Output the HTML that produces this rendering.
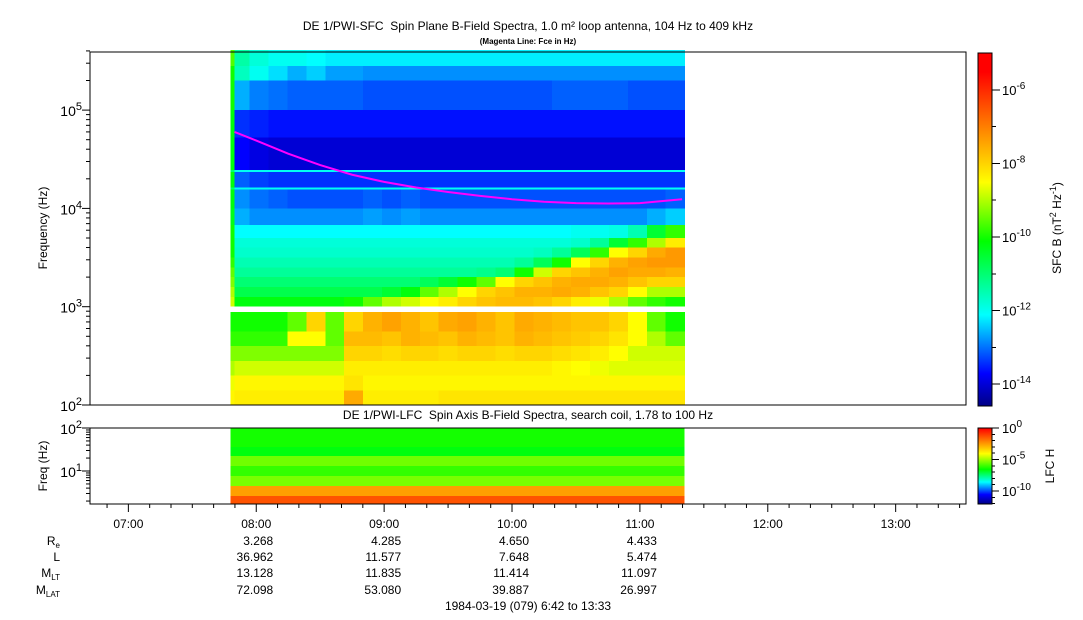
<!DOCTYPE html>
<html><head><meta charset="utf-8">
<style>
body{margin:0;background:#fff;}
svg{display:block;font-family:"Liberation Sans",sans-serif;}
</style></head>
<body>
<svg id="c" width="1083" height="620" viewBox="0 0 1083 620" xmlns="http://www.w3.org/2000/svg">
<rect width="1083" height="620" fill="#fff"/>
<text x="528" y="30" font-size="12" text-anchor="middle">DE 1/PWI-SFC&#160; Spin Plane B-Field Spectra, 1.0 m² loop antenna, 104 Hz to 409 kHz</text>
<text x="528" y="44" font-size="8" font-weight="bold" text-anchor="middle">(Magenta Line: Fce in Hz)</text>
<text x="528" y="419" font-size="12" text-anchor="middle">DE 1/PWI-LFC&#160; Spin Axis B-Field Spectra, search coil, 1.78 to 100 Hz</text>
<g id="topCells" shape-rendering="crispEdges"></g>
<g id="botCells" shape-rendering="crispEdges"></g>
<polyline id="fce" fill="none" stroke="#ff00ff" stroke-width="2"/>
<rect x="90" y="52" width="876" height="353" fill="none" stroke="#000"/>
<rect x="90" y="428" width="876" height="76" fill="none" stroke="#000"/>
<g id="axes" font-size="12"></g>
<text transform="translate(47,228) rotate(-90)" font-size="12" text-anchor="middle">Frequency (Hz)</text>
<text transform="translate(47,466) rotate(-90)" font-size="12" text-anchor="middle">Freq (Hz)</text>
<g id="cbar" shape-rendering="crispEdges"></g>
<text transform="translate(1061,228) rotate(-90)" font-size="12" text-anchor="middle">SFC B (nT<tspan dy="-5" font-size="9">2</tspan><tspan dy="5"> Hz</tspan><tspan dy="-5" font-size="9">-1</tspan><tspan dy="5">)</tspan></text>
<text transform="translate(1054,466) rotate(-90)" font-size="12" text-anchor="middle">LFC H</text>
<g id="eph" font-size="12"></g>
<text x="528" y="610" font-size="12" text-anchor="middle">1984-03-19 (079) 6:42 to 13:33</text>
</svg>
<script>
// ---- data ----
const tStart = 7.8, tEnd = 11.35;
const rowLo = [5.45,5.3,5.0,4.72,4.39,4.37,4.215,4.19,4.0,3.83,3.7,3.6,3.5,3.4,3.3,3.2,3.1,3.0, 2.75,2.6,2.45,2.3,2.15,2.0];
const rowHi = [5.61,5.45,5.3,5.0,4.72,4.39,4.37,4.215,4.19,4.0,3.83,3.7,3.6,3.5,3.4,3.3,3.2,3.1, 2.945,2.75,2.6,2.45,2.3,2.15];
const strip = [-9.6,-10,-10,-10.2,-10.2,-11,-10.2,-11,-10.2,-10.3,-10,-10,-10,-9.8,-9.5,-9.3,-9,-8.8, -10,-9.8,-9.3,-9,-8.6,-8.4];
const spec = [
[-11.4,-11.8,-12,-12,-12.1,-12.2,-12.2,-12.2,-12.2,-12.2,-12.2,-12.2,-12.2,-12.2,-12.2,-12.2,-12.2,-12.2,-12.2,-12.2,-12.2,-12.2,-12.2,-12.2],
[-11.6,-12,-12.3,-12.6,-12.4,-12.7,-12.7,-12.8,-12.8,-12.8,-12.8,-12.8,-12.8,-12.8,-12.8,-12.8,-12.8,-12.8,-12.8,-12.8,-12.8,-12.8,-12.8,-12.8],
[-12.6,-12.9,-13,-13.1,-13.1,-13.1,-13.1,-13.2,-13.2,-13.2,-13.2,-13.2,-13.2,-13.2,-13.2,-13.2,-13.2,-13.1,-13.1,-13.1,-13.1,-13.2,-13.2,-13.2],
[-13.4,-13.5,-13.6,-13.6,-13.6,-13.6,-13.6,-13.6,-13.6,-13.6,-13.6,-13.6,-13.6,-13.6,-13.6,-13.6,-13.6,-13.6,-13.6,-13.6,-13.6,-13.6,-13.6,-13.6],
[-13.7,-13.9,-14,-14,-14,-14,-14,-14,-14,-14,-14,-14,-14,-14,-14,-14,-14,-14,-14,-14,-14,-14,-14,-14],
[-12,-12,-12,-12,-12,-12,-12,-12,-12,-12,-12,-12,-12,-12,-12,-12,-12,-12,-12,-12,-12,-12,-12,-12],
[-13.1,-13.3,-13.4,-13.4,-13.4,-13.4,-13.4,-13.4,-13.4,-13.4,-13.4,-13.4,-13.4,-13.4,-13.4,-13.4,-13.4,-13.4,-13.4,-13.4,-13.4,-13.4,-13.4,-13.4],
[-12,-12,-12,-12,-12,-12,-12,-12,-12,-12,-12,-12,-12,-12,-12,-12,-12,-12,-12,-12,-12,-12,-12,-12],
[-12.8,-13,-13.1,-13.2,-13.2,-13.2,-13.2,-13.1,-13.2,-13.1,-13.2,-13.2,-13.2,-13.2,-13.2,-13.2,-13.2,-13.2,-13.2,-13.2,-13.2,-13.2,-13.2,-13.1],
[-12.6,-12.8,-12.8,-12.8,-12.8,-12.8,-12.8,-12.7,-12.8,-12.7,-12.8,-12.8,-12.8,-12.8,-12.8,-12.8,-12.8,-12.8,-12.8,-12.8,-12.8,-12.8,-12.6,-12.4],
[-12.1,-12.1,-12.1,-12.1,-12.1,-12.1,-12.1,-12.1,-12.1,-12.1,-12.1,-12.1,-12.1,-12.1,-12.1,-12.1,-12.1,-12.1,-12,-12,-11.9,-11.5,-10.5,-9.8],
[-11.8,-11.8,-11.8,-11.8,-11.8,-11.8,-11.8,-11.8,-11.8,-11.8,-11.8,-11.8,-11.8,-11.8,-11.8,-11.8,-11.8,-11.8,-11.7,-11.3,-10.5,-9.8,-9,-8.3],
[-11.7,-11.7,-11.7,-11.7,-11.7,-11.7,-11.7,-11.7,-11.7,-11.7,-11.7,-11.7,-11.7,-11.7,-11.7,-11.7,-11.6,-11.3,-10.8,-9.8,-8.5,-8,-7.5,-7.3],
[-11.5,-11.5,-11.5,-11.5,-11.5,-11.5,-11.5,-11.5,-11.5,-11.5,-11.5,-11.5,-11.5,-11.5,-11.5,-11.3,-10.8,-10,-8.5,-8,-7.6,-7.4,-7.3,-7.3],
[-11.3,-11.3,-11.3,-11.3,-11.3,-11.3,-11.3,-11.3,-11.3,-11.3,-11.3,-11.3,-11.3,-11.2,-11,-10,-8.8,-8,-7.8,-7.6,-7.4,-7.5,-7.5,-7.6],
[-11,-11,-11,-11,-11,-11,-11,-11,-11,-11,-10.8,-10.5,-10,-9.5,-8.5,-8,-7.8,-7.6,-7.5,-7.5,-7.6,-7.8,-8,-8],
[-10.7,-10.7,-10.7,-10.7,-10.7,-10.7,-10.7,-10.7,-10.5,-10.2,-9.5,-9,-8.5,-8,-7.8,-7.6,-7.6,-7.5,-7.6,-7.8,-8,-8.5,-9,-9],
[-10.2,-10.2,-10.2,-10.2,-10.2,-10.2,-10,-9.5,-9,-8.8,-8.5,-8.3,-8,-7.8,-7.7,-7.7,-7.8,-8,-8.3,-8.6,-9,-9.5,-9.8,-10],
[-10,-10,-10,-9.5,-8,-9.5,-8,-7.6,-7.4,-7.6,-7.8,-7.5,-7.4,-7.6,-7.8,-7.5,-7.6,-7.7,-7.8,-7.8,-8,-8.5,-9.5,-10],
[-9.8,-9.8,-9.8,-8.5,-8.5,-9.5,-7.7,-7.7,-7.8,-7.6,-7.7,-7.8,-7.6,-7.7,-7.8,-7.6,-7.7,-7.8,-7.9,-8,-8.2,-8.5,-9,-9.5],
[-9.3,-9.3,-9.3,-9.3,-9.3,-9.3,-8,-8,-8.1,-8,-8,-8.1,-8,-8,-8.1,-8,-8,-8.1,-8.2,-8.3,-8.5,-8.8,-8.8,-8.8],
[-8.8,-8.8,-8.8,-8.8,-8.8,-8.8,-8.3,-8.3,-8.3,-8.3,-8.3,-8.3,-8.3,-8.3,-8.3,-8.3,-8.3,-8.4,-8.5,-8.6,-8.7,-8.7,-8.7,-8.7],
[-8.4,-8.4,-8.4,-8.4,-8.4,-8.4,-8.2,-8.4,-8.4,-8.4,-8.4,-8.4,-8.4,-8.4,-8.4,-8.4,-8.4,-8.4,-8.4,-8.4,-8.4,-8.4,-8.4,-8.4],
[-8.3,-8.3,-8.3,-8.3,-8.3,-8.3,-7.5,-8.3,-8.3,-8.3,-8.3,-8.2,-8.2,-8.2,-8.2,-8.2,-8.2,-8.2,-8.2,-8.2,-8.2,-8.2,-8.2,-8.2]
];
const lfcLo = [1.56,1.35,1.12,0.88,0.65,0.42,0.25];
const lfcHi = [2.0,1.56,1.35,1.12,0.88,0.65,0.42];
const lfcVal = [-6.3,-6.6,-5.4,-6.0,-5.3,-2.5,-1.3];
const fceTimes = [7.83,8.0,8.25,8.5,8.75,9.0,9.25,9.5,9.75,10.0,10.25,10.5,10.75,11.0,11.33];
const fceHz = [60000,49000,36000,27600,22000,18600,16300,14700,13400,12400,11700,11300,11200,11300,12400];
const hourTicks = ["07:00","08:00","09:00","10:00","11:00","12:00","13:00"];
const ephRe = ["3.268","4.285","4.650","4.433"];
const ephL = ["36.962","11.577","7.648","5.474"];
const ephMLT = ["13.128","11.835","11.414","11.097"];
const ephMLAT = ["72.098","53.080","39.887","26.997"];

// ---- scales ----
const NS='http://www.w3.org/2000/svg';
const x0=90, x1=966, h0=6.7, h1=13.55;
const X = h => x0 + (h-h0)/(h1-h0)*(x1-x0);
const Y = lf => 405 - (lf-2)*98.3;
const YB = lf => 428 + (2-lf)*43;
const cmapCols=[[0,0,130],[0,0,255],[0,255,255],[0,255,0],[255,255,0],[255,0,0]];
function cmap(v,stops){
  if(v<=stops[0]) return `rgb(${cmapCols[0].join(',')})`;
  for(let i=1;i<stops.length;i++){
    if(v<=stops[i]){const f=(v-stops[i-1])/(stops[i]-stops[i-1]);const a=cmapCols[i-1],b=cmapCols[i];
      return `rgb(${a.map((c,k)=>Math.round(c+(b[k]-c)*f)).join(',')})`;}
  }
  return `rgb(${cmapCols[5].join(',')})`;
}
const topStops=[-14.6,-13.7,-12.1,-10.1,-8.5,-5.5];
const botStops=[-12,-10.5,-8.5,-6.5,-4,0];
const colT = v => cmap(v,topStops);
const colB = v => cmap(v,botStops);
function mk(tag,attrs,parent){const e=document.createElementNS(NS,tag);for(const k in attrs)e.setAttribute(k,attrs[k]);parent.appendChild(e);return e;}

const tc=document.getElementById('topCells');
const nCols=spec[0].length, dt=(tEnd-tStart)/nCols, stripEnd=7.83;
for(let r=0;r<spec.length;r++){
  const ya=Y(rowHi[r]), yb=Y(rowLo[r]);
  const s=mk('rect',{x:X(tStart),y:ya,width:X(stripEnd)-X(tStart)+0.5,height:yb-ya,fill:colT(strip[r])},tc);
  
  
  for(let c=0;c<nCols;c++){
    const ta=Math.max(stripEnd,tStart+c*dt), tb=tStart+(c+1)*dt;
    const e=mk('rect',{x:X(ta),y:ya,width:X(tb)-X(ta)+0.5,height:yb-ya,fill:colT(spec[r][c])},tc);
    
    
  }
}
const bc=document.getElementById('botCells');
for(let r=0;r<lfcVal.length;r++){
  const e=mk('rect',{x:X(tStart),y:YB(lfcHi[r]),width:X(tEnd)-X(tStart),height:YB(lfcLo[r])-YB(lfcHi[r]),fill:colB(lfcVal[r])},bc);
  
  
}
document.getElementById('fce').setAttribute('points',fceTimes.map((t,i)=>X(t)+','+Y(Math.log10(fceHz[i]))).join(' '));

// axes
const ax=document.getElementById('axes');
function sup(x,y,base,exp,name){
  const t=mk('text',{x:x,y:y,'text-anchor':'end','font-size':14},ax);
  
  
  t.innerHTML=base+'<tspan dy="-6" font-size="11">'+exp+'</tspan>';
}
for(let d=2;d<=5;d++){
  for(let m=1;m<=9;m++){
    const lf=d+Math.log10(m); if(lf>5.61) break;
    const y=Y(lf); const L=m==1?8:4;
    const tk=mk('line',{x1:x0-L,x2:x0,y1:y,y2:y,stroke:'#000'},ax);
    
    
  }
  sup(82,Y(d)+6,'10',d,'y-tick-label');
}
for(let d=0;d<=2;d++){
  for(let m=1;m<=9;m++){
    const lf=d+Math.log10(m); if(lf<0.25||lf>2) continue;
    const y=YB(lf); const L=m==1?8:4;
    const tk=mk('line',{x1:x0-L,x2:x0,y1:y,y2:y,stroke:'#000'},ax);
    
    
  }
  if(d>=1) sup(82,YB(d)+6,'10',d,'lfc-y-tick-label');
}
for(let m=6*60+50;m<=13*60+30;m+=10){
  const x=X(m/60), maj=m%60==0;
  const tk=mk('line',{x1:x,x2:x,y1:504,y2:maj?512:508,stroke:'#000'},ax);
  
  
}
hourTicks.forEach((lab,i)=>{
  const t=mk('text',{x:X(7+i),y:528,'text-anchor':'middle'},ax);t.textContent=lab;
  
  
});
// colorbars
const cb=document.getElementById('cbar');
for(let y=53;y<406;y++){mk('rect',{x:978,y:y,width:14,height:1.2,fill:colT(-5-(y-53)/36.8)},cb);}
for(let y=428;y<504;y++){mk('rect',{x:978,y:y,width:14,height:1.2,fill:colB(-(y-428)/6.3)},cb);}
const f1=mk('rect',{x:978,y:53,width:14,height:353,fill:'none',stroke:'#000'},cb);


const f2=mk('rect',{x:978,y:428,width:14,height:76,fill:'none',stroke:'#000'},cb);


[-6,-7,-8,-9,-10,-11,-12,-13,-14].forEach(e=>{
  const y=53+(-5-e)*36.8; const maj=e%2==0;
  mk('line',{x1:992,x2:maj?1000:996,y1:y,y2:y,stroke:'#000'},cb);
  if(maj){const t=mk('text',{x:1002,y:y+5,'font-size':13},cb);t.innerHTML='10<tspan dy="-6" font-size="10">'+e+'</tspan>';
    
    }
});
for(let e=0;e>=-12;e--){
  const y=428+(-e)*6.3; const maj=e%5==0;
  mk('line',{x1:992,x2:maj?999:995,y1:y,y2:y,stroke:'#000'},cb);
  if(maj){const t=mk('text',{x:1002,y:y+5,'font-size':13},cb);t.innerHTML='10<tspan dy="-6" font-size="10">'+e+'</tspan>';
    
    }
}
// ephemeris
const eg=document.getElementById('eph');
const rows=[['R','e',ephRe,545],['L','',ephL,561],['M','LT',ephMLT,577],['M','LAT',ephMLAT,594]];
rows.forEach(([b,s,vals,y])=>{
  const t=mk('text',{x:60,y:y,'text-anchor':'end'},eg);
  t.innerHTML=b+(s?'<tspan dy="3" font-size="8">'+s+'</tspan>':'');
  
  
  vals.forEach((v,i)=>{const e=mk('text',{x:X(8+i)+17,y:y,'text-anchor':'end'},eg);e.textContent=v;
    
    });
});
</script>
</body></html>
